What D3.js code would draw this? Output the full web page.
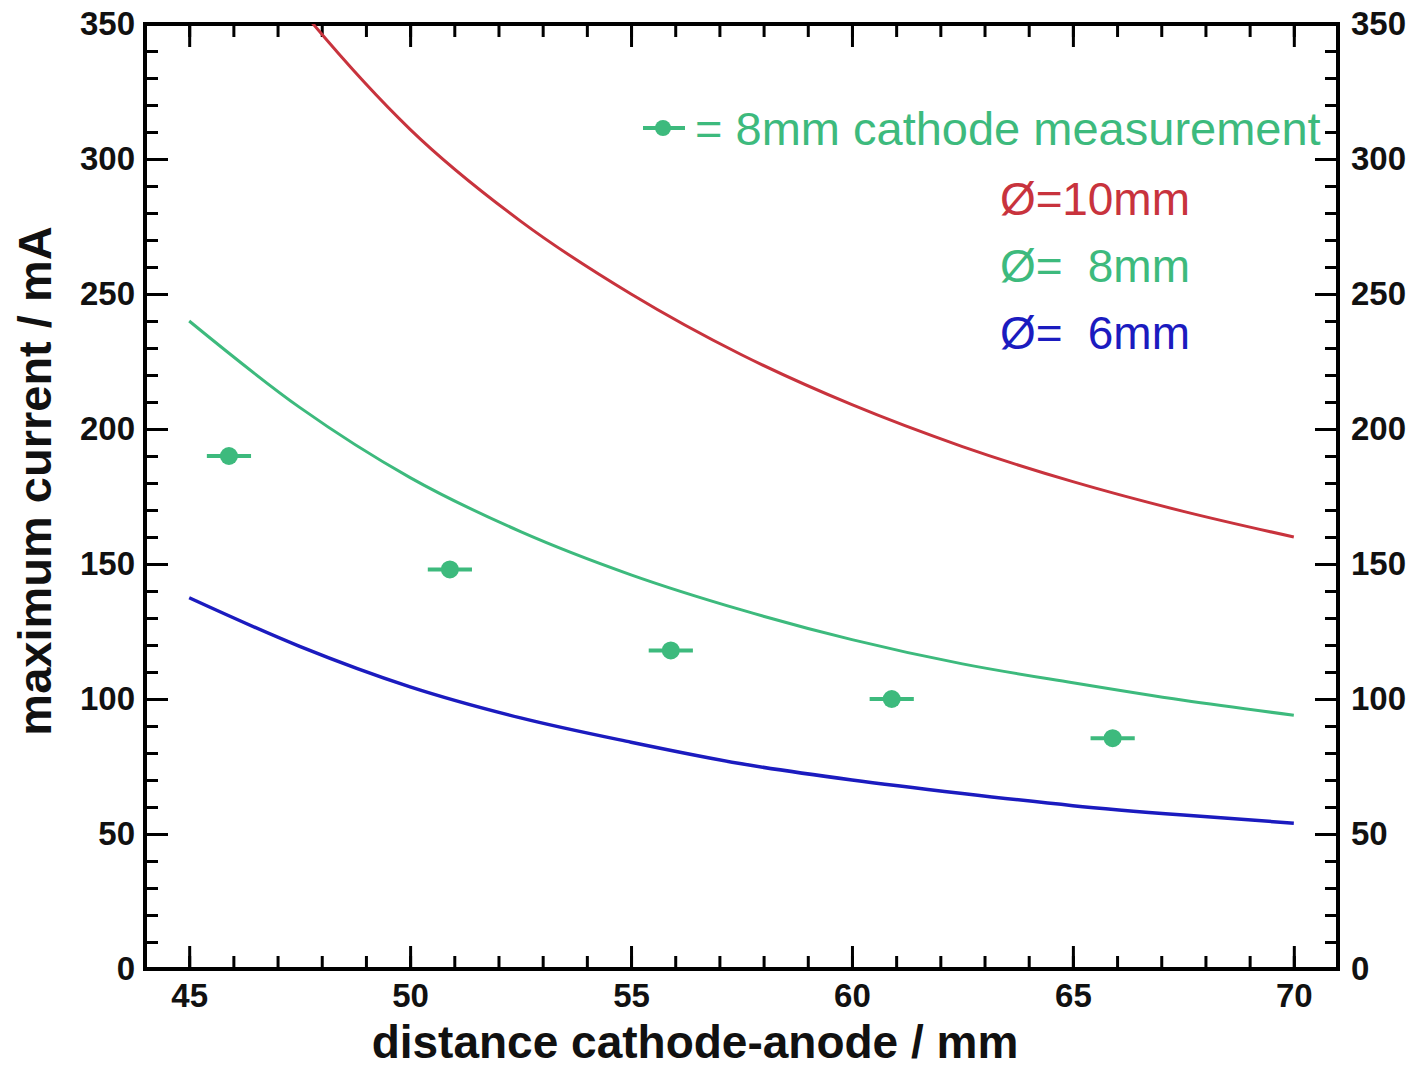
<!DOCTYPE html>
<html>
<head>
<meta charset="utf-8">
<script src="https://cdn.jsdelivr.net/npm/d3@7"></script>
<style>
  html, body { margin: 0; padding: 0; background: #fff; }
  svg { display: block; }
  text { font-family: "Liberation Sans", Arial, sans-serif; }
</style>
</head>
<body>
<svg id="chart" width="1419" height="1069"></svg>
<script>
// ---- data ----
const distances = [45, 47.5, 50, 52.5, 55, 57.5, 60, 62.5, 65, 67.5, 70];
const current10mm = [410, 356, 311, 277, 250, 227.5, 209, 193.5, 180.5, 169.5, 160];
const current8mm  = [240, 208, 182, 162, 146, 133, 122, 113, 106, 99.5, 94];
const current6mm  = [137.5, 119.5, 104.5, 93, 84, 76, 70, 65, 60.5, 57, 54];

const measDistance = [45.9, 50.9, 55.9, 60.9, 65.9];
const measCurrent  = [190, 148, 118, 100, 85.5];
const measXErr     = [0.5, 0.5, 0.5, 0.5, 0.5];

const xMajorTicks = [45, 50, 55, 60, 65, 70];
const xMinorTicks = d3.range(44, 72, 1);
const yMajorTicks = [0, 50, 100, 150, 200, 250, 300, 350];
const yMinorTicks = d3.range(0, 351, 10);

const seriesNames = ["10mm", "8mm", "6mm"];
const seriesLabels = ["10mm", "8mm", "6mm"];
const legendMeasurement = "= 8mm cathode measurement";

// ---- layout ----
const colors = { "10mm": "#c8333d", "8mm": "#3dba7d", "6mm": "#1b1bbf" };
const mLeft = 145, mRight = 1338, mTop = 24, mBottom = 969;

const svg = d3.select("#chart");
const x = d3.scaleLinear().domain([44, 71]).range([mLeft, mRight]);
const y = d3.scaleLinear().domain([0, 350]).range([mBottom, mTop]);

svg.append("defs").append("clipPath").attr("id", "plotclip")
  .append("rect").attr("x", mLeft).attr("y", mTop)
  .attr("width", mRight - mLeft).attr("height", mBottom - mTop);

function styleAxis(g) {
  g.select(".domain").remove();
  g.selectAll(".tick line").attr("stroke", "#000").attr("stroke-width", 3);
  g.selectAll(".tick text").attr("fill", "#111")
    .style("font-size", "33px").style("font-weight", "bold")
    .style("font-family", "'Liberation Sans', Arial, sans-serif");
}

// minor ticks
svg.append("g").attr("transform", `translate(0,${mBottom})`)
  .call(d3.axisBottom(x).tickValues(xMinorTicks).tickSize(-13).tickFormat(""))
  .call(styleAxis);
svg.append("g").attr("transform", `translate(0,${mTop})`)
  .call(d3.axisTop(x).tickValues(xMinorTicks).tickSize(-13).tickFormat(""))
  .call(styleAxis);
svg.append("g").attr("transform", `translate(${mLeft},0)`)
  .call(d3.axisLeft(y).tickValues(yMinorTicks).tickSize(-13).tickFormat(""))
  .call(styleAxis);
svg.append("g").attr("transform", `translate(${mRight},0)`)
  .call(d3.axisRight(y).tickValues(yMinorTicks).tickSize(-13).tickFormat(""))
  .call(styleAxis);

// major ticks with labels
svg.append("g").attr("transform", `translate(0,${mBottom})`)
  .call(d3.axisBottom(x).tickValues(xMajorTicks).tickSize(-23).tickPadding(15).tickFormat(d3.format("d")))
  .call(styleAxis);
svg.append("g").attr("transform", `translate(0,${mTop})`)
  .call(d3.axisTop(x).tickValues(xMajorTicks).tickSize(-23).tickFormat(""))
  .call(styleAxis);
svg.append("g").attr("transform", `translate(${mLeft},0)`)
  .call(d3.axisLeft(y).tickValues(yMajorTicks).tickSize(-23).tickPadding(10).tickFormat(d3.format("d")))
  .call(styleAxis);
svg.append("g").attr("transform", `translate(${mRight},0)`)
  .call(d3.axisRight(y).tickValues(yMajorTicks).tickSize(-23).tickPadding(13).tickFormat(d3.format("d")))
  .call(styleAxis);

// frame
svg.append("rect").attr("x", mLeft).attr("y", mTop)
  .attr("width", mRight - mLeft).attr("height", mBottom - mTop)
  .attr("fill", "none").attr("stroke", "#000").attr("stroke-width", 4);

// curves
const seriesData = {
  "10mm": distances.map((d, i) => [d, current10mm[i]]),
  "8mm": distances.map((d, i) => [d, current8mm[i]]),
  "6mm": distances.map((d, i) => [d, current6mm[i]])
};
const line = d3.line().x(d => x(d[0])).y(d => y(d[1])).curve(d3.curveMonotoneX);
const plot = svg.append("g").attr("clip-path", "url(#plotclip)");
seriesNames.forEach(name => {
  plot.append("path").datum(seriesData[name])
    .attr("d", line).attr("fill", "none")
    .attr("stroke", colors[name]).attr("stroke-width", name === "6mm" ? 3.5 : 3);
});

// measurements
const meas = measDistance.map((d, i) => ({ d, c: measCurrent[i], e: measXErr[i] }));
const mg = svg.append("g");
mg.selectAll("line.err").data(meas).join("line")
  .attr("x1", p => x(p.d - p.e)).attr("x2", p => x(p.d + p.e))
  .attr("y1", p => y(p.c)).attr("y2", p => y(p.c))
  .attr("stroke", colors["8mm"]).attr("stroke-width", 4);
mg.selectAll("circle").data(meas).join("circle")
  .attr("cx", p => x(p.d)).attr("cy", p => y(p.c)).attr("r", 9)
  .attr("fill", colors["8mm"]);

// legend: measurement
const lg = svg.append("g");
lg.append("line").attr("x1", 643).attr("x2", 685).attr("y1", 128).attr("y2", 128)
  .attr("stroke", colors["8mm"]).attr("stroke-width", 4);
lg.append("circle").attr("cx", 663).attr("cy", 128).attr("r", 8).attr("fill", colors["8mm"]);
lg.append("text").attr("x", 695).attr("y", 145)
  .attr("fill", colors["8mm"]).style("font-size", "47px")
  .text(legendMeasurement);

// legend: diameters
seriesNames.forEach((name, i) => {
  const yy = 215 + i * 67;
  lg.append("text").attr("x", 1000).attr("y", yy)
    .attr("fill", colors[name]).style("font-size", "46px").text("\u00D8=");
  lg.append("text").attr("x", 1190).attr("y", yy).attr("text-anchor", "end")
    .attr("fill", colors[name]).style("font-size", "46px").text(seriesLabels[i]);
});

// axis titles
svg.append("text").attr("x", 695).attr("y", 1058).attr("text-anchor", "middle")
  .style("font-size", "46px").style("font-weight", "bold").attr("fill", "#111")
  .text("distance cathode-anode / mm");
svg.append("text").attr("transform", "translate(51,481) rotate(-90)")
  .attr("text-anchor", "middle")
  .style("font-size", "47px").style("font-weight", "bold").attr("fill", "#111")
  .text("maximum current / mA");
</script>
</body>
</html>
